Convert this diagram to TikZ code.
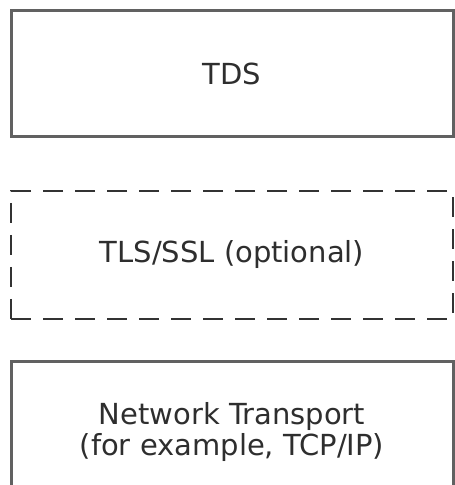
\documentclass[tikz,border=0pt]{standalone}
\usepackage{fontspec}
\setmainfont{DejaVu Sans}
\definecolor{edgegray}{gray}{0.38}
\definecolor{dashgray}{gray}{0.2}
\definecolor{txtgray}{gray}{0.18}
\begin{document}
\begin{tikzpicture}[x=1pt,y=1pt,
  layerbox/.style={draw=edgegray, line width=3pt, minimum width=442pt, inner sep=0pt,
    text=txtgray, font=\fontsize{29pt}{31pt}\selectfont, align=center},
  optbox/.style={layerbox, draw=dashgray, line width=2.6pt, dash pattern=on 20pt off 12pt}]
\useasboundingbox (0,0) rectangle (455,485);
\clip (0,0) rectangle (455,485);
\node[layerbox, minimum height=126pt] (tds) at (232,411) {TDS};
\node[optbox, minimum height=128pt] (tls) at (232,230) {TLS/SSL (optional)};
\node[layerbox, minimum height=140pt] (net) at (232,53) {Network Transport\\(for example, TCP/IP)};
\end{tikzpicture}
\end{document}
